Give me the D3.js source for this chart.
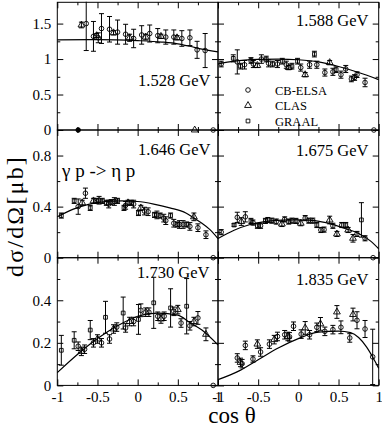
<!DOCTYPE html>
<html>
<head>
<meta charset="utf-8">
<script src="https://cdn.jsdelivr.net/npm/d3@7"></script>
<style>
  body { margin: 0; background: #fff; }
  text { font-family: "Liberation Serif", "Times New Roman", serif; fill: #000; }
</style>
</head>
<body>
<div id="chart"></div>
<script>
// eta photoproduction, dsigma/dOmega vs cos(theta), six beam energies

const energies = ["1.528 GeV", "1.588 GeV", "1.646 GeV", "1.675 GeV", "1.730 GeV", "1.835 GeV"];
const legendNames = ["CB-ELSA", "CLAS", "GRAAL"];
const legendTypes = ["c", "t", "s"];

const xMajor = [-1, -0.5, 0, 0.5, 1];
const xMinor = [-0.75, -0.25, 0.25, 0.75];
const rowDomains = [[0, 1.8], [0, 1.0], [0, 0.6]];
const rowMajor = [[0, 0.5, 1, 1.5], [0, 0.4, 0.8], [0, 0.2, 0.4]];
const rowMinor = [[0.25, 0.75, 1.25], [0.2, 0.6], [0.1, 0.3, 0.5]];

// data points: [cos theta, value, error, marker]  c = CB-ELSA, t = CLAS, s = GRAAL, f = filled
const d1528 = [
  [-0.70, 1.48, 0.04, "t"], [-0.64, 1.50, 0.38, "c"], [-0.55, 1.32, 0.21, "c"], [-0.51, 1.33, 0.03, "t"],
  [-0.49, 1.30, 0.07, "c"], [-0.45, 1.43, 0.21, "c"], [-0.35, 1.42, 0.18, "c"], [-0.30, 1.37, 0.03, "t"],
  [-0.25, 1.38, 0.17, "c"], [-0.15, 1.35, 0.14, "c"], [-0.10, 1.30, 0.05, "t"], [-0.05, 1.29, 0.13, "c"],
  [0.05, 1.34, 0.13, "c"], [0.10, 1.31, 0.04, "t"], [0.15, 1.36, 0.12, "c"], [0.25, 1.33, 0.10, "c"],
  [0.29, 1.32, 0.03, "t"], [0.35, 1.31, 0.10, "c"], [0.45, 1.31, 0.10, "c"], [0.49, 1.30, 0.03, "t"],
  [0.55, 1.29, 0.11, "c"], [0.65, 1.30, 0.11, "c"], [0.74, 1.13, 0.12, "c"], [0.84, 1.12, 0.24, "c"],
  [-0.74, 0, 0, "f"], [0.71, 0, 0, "t"], [0.94, 0, 0, "c"]
];
const d1588 = [
  [-0.96, 0.93, 0.04, "c"], [-0.81, 1.01, 0.05, "s"], [-0.76, 0.96, 0.17, "c"], [-0.72, 0.90, 0.04, "s"],
  [-0.67, 0.92, 0.06, "c"], [-0.59, 0.98, 0.04, "s"], [-0.56, 0.93, 0.05, "c"], [-0.51, 0.91, 0.03, "t"],
  [-0.46, 1.00, 0.06, "c"], [-0.40, 1.00, 0.04, "s"], [-0.37, 0.94, 0.05, "c"], [-0.32, 0.93, 0.04, "s"],
  [-0.26, 0.93, 0.05, "c"], [-0.20, 0.97, 0.04, "s"], [-0.15, 0.92, 0.05, "c"], [-0.12, 0.88, 0.03, "t"],
  [-0.08, 0.90, 0.04, "s"], [-0.01, 0.97, 0.04, "s"], [0.03, 0.88, 0.05, "c"], [0.085, 0.78, 0.03, "t"],
  [0.14, 0.92, 0.05, "c"], [0.20, 1.07, 0.04, "s"], [0.23, 0.92, 0.05, "c"], [0.33, 0.81, 0.05, "c"],
  [0.39, 0.95, 0.03, "t"], [0.43, 0.82, 0.05, "c"], [0.47, 0.85, 0.04, "s"], [0.53, 0.78, 0.05, "c"],
  [0.59, 0.86, 0.05, "c"], [0.66, 0.72, 0.04, "c"], [0.70, 0.74, 0.04, "c"], [0.73, 0.78, 0.04, "c"],
  [0.83, 0.67, 0.06, "c"], [0.94, 0, 0, "c"]
];
const d1646 = [
  [-0.95, 0.33, 0.02, "s"], [-0.79, 0.445, 0.02, "s"], [-0.74, 0.40, 0.06, "c"], [-0.69, 0.43, 0.02, "t"],
  [-0.65, 0.505, 0.04, "c"], [-0.59, 0.39, 0.02, "s"], [-0.55, 0.445, 0.02, "t"], [-0.51, 0.445, 0.02, "s"],
  [-0.48, 0.45, 0.03, "c"], [-0.44, 0.445, 0.02, "s"], [-0.39, 0.43, 0.02, "s"], [-0.36, 0.42, 0.03, "c"],
  [-0.33, 0.435, 0.02, "s"], [-0.29, 0.44, 0.03, "c"], [-0.25, 0.445, 0.02, "s"], [-0.17, 0.39, 0.02, "s"],
  [-0.15, 0.41, 0.03, "c"], [-0.12, 0.43, 0.02, "t"], [-0.08, 0.43, 0.02, "s"], [-0.05, 0.42, 0.03, "c"],
  [0.01, 0.35, 0.02, "s"], [0.04, 0.39, 0.02, "t"], [0.085, 0.365, 0.03, "c"], [0.13, 0.36, 0.03, "c"],
  [0.21, 0.335, 0.02, "s"], [0.24, 0.335, 0.03, "c"], [0.28, 0.33, 0.02, "s"], [0.325, 0.31, 0.03, "c"],
  [0.35, 0.29, 0.03, "c"], [0.41, 0.33, 0.02, "s"], [0.45, 0.27, 0.03, "c"], [0.49, 0.26, 0.02, "s"],
  [0.52, 0.26, 0.03, "c"], [0.565, 0.26, 0.03, "c"], [0.61, 0.26, 0.02, "s"], [0.65, 0.245, 0.03, "c"],
  [0.70, 0.32, 0.03, "t"], [0.75, 0.235, 0.03, "c"], [0.85, 0.18, 0.03, "c"], [0.94, 0, 0, "c"]
];
const d1675 = [
  [-0.96, 0.20, 0.02, "c"], [-0.80, 0.256, 0.01, "s"], [-0.76, 0.316, 0.04, "c"], [-0.71, 0.283, 0.03, "t"],
  [-0.66, 0.32, 0.04, "c"], [-0.59, 0.288, 0.02, "s"], [-0.565, 0.275, 0.02, "c"], [-0.51, 0.25, 0.02, "s"],
  [-0.47, 0.25, 0.02, "c"], [-0.41, 0.288, 0.02, "s"], [-0.38, 0.295, 0.02, "c"], [-0.33, 0.29, 0.02, "s"],
  [-0.275, 0.283, 0.02, "c"], [-0.205, 0.264, 0.02, "t"], [-0.17, 0.30, 0.02, "c"], [-0.12, 0.283, 0.02, "s"],
  [-0.08, 0.29, 0.02, "c"], [-0.03, 0.288, 0.02, "s"], [0.03, 0.27, 0.02, "t"], [0.085, 0.31, 0.02, "c"],
  [0.13, 0.29, 0.02, "s"], [0.18, 0.29, 0.02, "c"], [0.23, 0.256, 0.02, "s"], [0.28, 0.217, 0.02, "c"],
  [0.32, 0.22, 0.02, "c"], [0.39, 0.295, 0.03, "t"], [0.43, 0.25, 0.02, "c"], [0.48, 0.186, 0.02, "t"],
  [0.54, 0.256, 0.02, "c"], [0.59, 0.256, 0.02, "s"], [0.62, 0.217, 0.02, "t"], [0.68, 0.152, 0.03, "t"],
  [0.73, 0.186, 0.02, "c"], [0.785, 0.296, 0.135, "s"], [0.83, 0.152, 0.02, "c"], [0.93, 0, 0, "c"]
];
const d1730 = [
  [-0.95, 0.165, 0.07, "s"], [-0.79, 0.212, 0.04, "s"], [-0.74, 0.184, 0.02, "c"], [-0.70, 0.16, 0.02, "t"],
  [-0.66, 0.17, 0.02, "c"], [-0.59, 0.26, 0.045, "s"], [-0.55, 0.20, 0.02, "c"], [-0.50, 0.218, 0.02, "t"],
  [-0.45, 0.20, 0.02, "c"], [-0.40, 0.32, 0.075, "s"], [-0.35, 0.218, 0.02, "c"], [-0.30, 0.265, 0.02, "t"],
  [-0.26, 0.274, 0.02, "c"], [-0.18, 0.34, 0.075, "s"], [-0.15, 0.27, 0.02, "c"], [-0.10, 0.30, 0.02, "t"],
  [-0.05, 0.30, 0.02, "c"], [0.01, 0.31, 0.07, "s"], [0.04, 0.353, 0.03, "c"], [0.10, 0.344, 0.02, "t"],
  [0.14, 0.344, 0.02, "c"], [0.20, 0.388, 0.12, "s"], [0.25, 0.325, 0.02, "c"], [0.29, 0.312, 0.02, "t"],
  [0.33, 0.325, 0.02, "c"], [0.41, 0.364, 0.09, "s"], [0.45, 0.348, 0.02, "c"], [0.50, 0.356, 0.02, "t"],
  [0.54, 0.293, 0.02, "c"], [0.61, 0.372, 0.13, "s"], [0.65, 0.28, 0.02, "c"], [0.70, 0.30, 0.02, "t"],
  [0.75, 0.317, 0.03, "c"], [0.85, 0.24, 0.03, "t"], [0.94, 0, 0, "c"]
];
const d1835 = [
  [-0.76, 0.129, 0.02, "c"], [-0.72, 0.108, 0.02, "t"], [-0.70, 0.102, 0.02, "c"], [-0.66, 0.188, 0.02, "c"],
  [-0.565, 0.124, 0.015, "c"], [-0.51, 0.194, 0.02, "t"], [-0.47, 0.157, 0.02, "c"], [-0.36, 0.194, 0.02, "c"],
  [-0.30, 0.215, 0.02, "t"], [-0.26, 0.23, 0.02, "c"], [-0.17, 0.238, 0.02, "c"], [-0.13, 0.23, 0.02, "t"],
  [-0.11, 0.228, 0.02, "c"], [-0.06, 0.278, 0.02, "c"], [0.035, 0.241, 0.02, "c"], [0.085, 0.27, 0.03, "t"],
  [0.14, 0.238, 0.02, "c"], [0.23, 0.273, 0.02, "c"], [0.275, 0.289, 0.03, "t"], [0.33, 0.254, 0.02, "c"],
  [0.43, 0.262, 0.02, "c"], [0.48, 0.345, 0.03, "t"], [0.53, 0.273, 0.03, "c"], [0.64, 0.223, 0.02, "c"],
  [0.68, 0.333, 0.03, "t"], [0.73, 0.306, 0.04, "c"], [0.83, 0.265, 0.04, "c"], [0.925, 0.134, 0.13, "c"]
];

// model curves: [cos theta, value]
const c1528 = [[-1, 1.27], [-0.5, 1.275], [0, 1.26], [0.3, 1.24], [0.5, 1.215], [0.65, 1.18], [0.8, 1.14], [1, 1.10]];
const c1588 = [[-1, 0.93], [-0.8, 0.97], [-0.5, 0.995], [-0.25, 1.0], [0, 0.99], [0.25, 0.96], [0.5, 0.895], [0.75, 0.81], [1, 0.71]];
const c1646 = [[-1, 0.32], [-0.8, 0.38], [-0.6, 0.42], [-0.4, 0.44], [-0.2, 0.445], [0, 0.44], [0.2, 0.42], [0.4, 0.39], [0.6, 0.35], [0.7, 0.31], [0.8, 0.27], [0.9, 0.22], [1, 0.15]];
const c1675 = [[-1, 0.15], [-0.8, 0.215], [-0.6, 0.26], [-0.4, 0.285], [-0.2, 0.295], [0, 0.297], [0.2, 0.29], [0.4, 0.265], [0.6, 0.225], [0.75, 0.19], [0.9, 0.13], [1, 0.07]];
const c1730 = [[-1, 0.06], [-0.75, 0.145], [-0.5, 0.22], [-0.25, 0.28], [0, 0.325], [0.25, 0.34], [0.5, 0.33], [0.65, 0.295], [0.8, 0.26], [1, 0.19]];
const c1835 = [[-1, 0.027], [-0.75, 0.066], [-0.5, 0.121], [-0.25, 0.176], [0, 0.22], [0.25, 0.25], [0.5, 0.255], [0.65, 0.248], [0.75, 0.225], [0.85, 0.18], [0.93, 0.13], [1, 0.08]];

const pointSets = [d1528, d1588, d1646, d1675, d1730, d1835];
const curveSets = [c1528, c1588, c1646, c1675, c1730, c1835];

// layout
const width = 382, height = 429;
const leftX = 57.3, topY = 2.3, panelW = 160.7, panelH = 127.7;
// where the energy label sits in each panel (start x, baseline y)
const labelPos = [[138, 86], [296, 26], [138, 155], [296, 156], [137, 278], [296, 285]];

const svg = d3.select("#chart").append("svg")
    .attr("width", width)
    .attr("height", height);

const fmt = d => String(d);

function drawMarker(g, type, cx, cy) {
    if (type === "c" || type === "f") {
        g.append("circle")
            .attr("cx", cx).attr("cy", cy).attr("r", 2.3)
            .attr("fill", type === "f" ? "#000" : "none")
            .attr("stroke", "#000").attr("stroke-width", 0.9);
    } else {
        const sym = type === "t" ? d3.symbol(d3.symbolTriangle, 20) : d3.symbol(d3.symbolSquare, 14);
        g.append("path")
            .attr("d", sym())
            .attr("transform", `translate(${cx},${cy})`)
            .attr("fill", "none")
            .attr("stroke", "#000").attr("stroke-width", 0.9);
    }
}

pointSets.forEach((points, i) => {
    const col = i % 2, row = Math.floor(i / 2);
    const x0 = leftX + col * panelW, y0 = topY + row * panelH;

    const x = d3.scaleLinear().domain([-1, 1]).range([x0, x0 + panelW]);
    const y = d3.scaleLinear().domain(rowDomains[row]).range([y0 + panelH, y0]);

    svg.append("clipPath").attr("id", "clip" + i)
        .append("rect")
        .attr("x", x0 - 3).attr("y", y0 - 0.5)
        .attr("width", panelW + 6).attr("height", panelH + 4);

    const g = svg.append("g");
    const plot = g.append("g").attr("clip-path", `url(#clip${i})`);

    // model curve
    plot.append("path")
        .datum(curveSets[i])
        .attr("fill", "none")
        .attr("stroke", "#000")
        .attr("stroke-width", 1.2)
        .attr("d", d3.line()
            .curve(d3.curveMonotoneX)
            .x(d => x(d[0]))
            .y(d => y(d[1])));

    // error bars
    points.filter(d => d[2] > 0).forEach(d => {
        const px = x(d[0]), lo = y(d[1] - d[2]), hi = y(d[1] + d[2]);
        plot.append("line").attr("x1", px).attr("x2", px).attr("y1", lo).attr("y2", hi)
            .attr("stroke", "#000").attr("stroke-width", 1);
        [lo, hi].forEach(v => {
            plot.append("line").attr("x1", px - 2.5).attr("x2", px + 2.5).attr("y1", v).attr("y2", v)
                .attr("stroke", "#000").attr("stroke-width", 1);
        });
    });

    // markers
    points.forEach(d => drawMarker(plot, d[3], x(d[0]), y(d[1])));

    // frame
    g.append("rect")
        .attr("x", x0).attr("y", y0)
        .attr("width", panelW).attr("height", panelH)
        .attr("fill", "none").attr("stroke", "#000").attr("stroke-width", 1);

    // ticks on all four sides, pointing inward
    const sides = [
        [d3.axisBottom(x), `translate(0,${y0 + panelH})`, xMajor, xMinor, row === 2],
        [d3.axisTop(x), `translate(0,${y0})`, xMajor, xMinor, false],
        [d3.axisLeft(y), `translate(${x0},0)`, rowMajor[row], rowMinor[row], col === 0],
        [d3.axisRight(y), `translate(${x0 + panelW},0)`, rowMajor[row], rowMinor[row], false]
    ];
    sides.forEach(([axis, tr, major, minor, labelled]) => {
        const a = g.append("g").attr("transform", tr)
            .call(axis.tickValues(major).tickSize(-6).tickPadding(labelled ? 6 : 0)
                .tickFormat(labelled ? fmt : ""));
        a.select(".domain").remove();
        a.selectAll("text").attr("font-size", 15).attr("font-family", "Liberation Serif");
        const m = g.append("g").attr("transform", tr)
            .call(axis.tickValues(minor).tickSize(-3).tickFormat(""));
        m.select(".domain").remove();
    });

    // energy label
    g.append("text")
        .attr("x", labelPos[i][0]).attr("y", labelPos[i][1])
        .attr("font-size", 16.5)
        .text(energies[i]);
});

// legend in the 1.588 GeV panel
const legend = svg.append("g");
legendNames.forEach((name, k) => {
    const ly = 90 + k * 15.5;
    drawMarker(legend, legendTypes[k], 248, ly);
    legend.append("text")
        .attr("x", 275).attr("y", ly + 4.5)
        .attr("font-size", 12.5)
        .text(name);
});

// reaction label
svg.append("text")
    .attr("x", 62).attr("y", 177)
    .attr("font-size", 19)
    .text("\u03b3 p -> \u03b7 p");

// axis titles
svg.append("text")
    .attr("transform", "translate(23,216) rotate(-90)")
    .attr("text-anchor", "middle")
    .attr("font-size", 24)
    .attr("letter-spacing", 2.2)
    .text("d\u03c3/d\u03a9[\u03bcb]");

svg.append("text")
    .attr("x", 232).attr("y", 423)
    .attr("text-anchor", "middle")
    .attr("font-size", 23)
    .text("cos \u03b8");
</script>
</body>
</html>
